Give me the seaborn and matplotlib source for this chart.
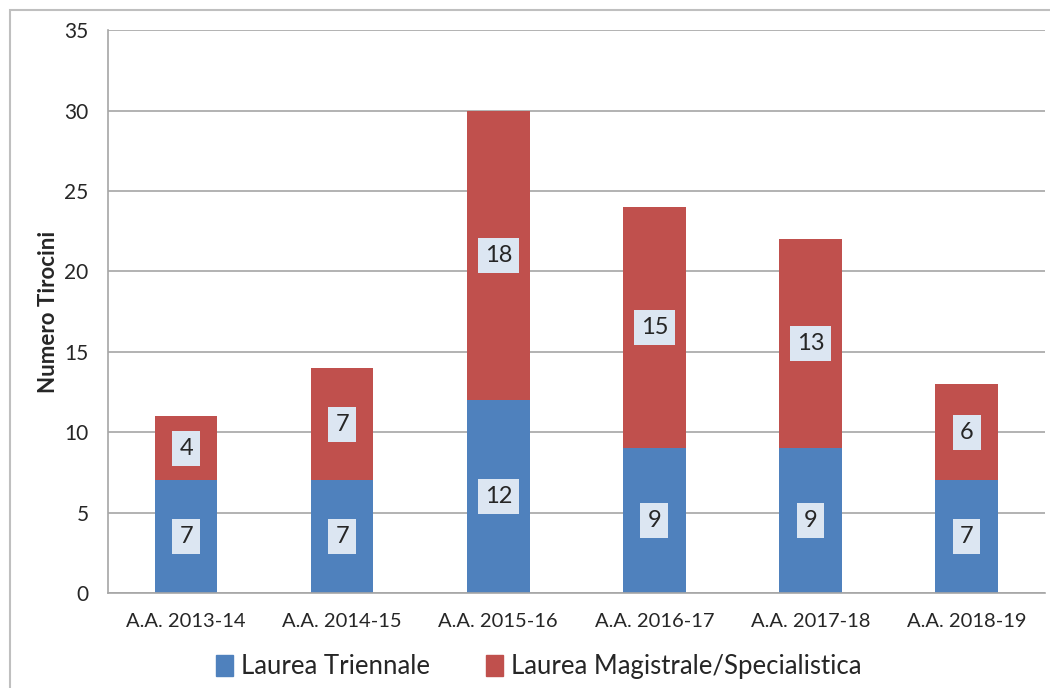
import pandas as pd
import matplotlib.pyplot as plt
import seaborn as sns
from matplotlib.patches import Rectangle, Patch

# Data
anni = ['A.A. 2013-14', 'A.A. 2014-15', 'A.A. 2015-16', 'A.A. 2016-17', 'A.A. 2017-18', 'A.A. 2018-19']
triennale = [7, 7, 12, 9, 9, 7]
magistrale = [4, 7, 18, 15, 13, 6]

blu = '#4F81BD'
rosso = '#C0504D'
grigio = '#A6A6A6'

df = pd.DataFrame({'anno': anni, 'triennale': triennale, 'magistrale': magistrale})
df['totale'] = df['triennale'] + df['magistrale']

sns.set_style('white')
plt.rcParams['font.family'] = ['Lato', 'DejaVu Sans']

fig = plt.figure(figsize=(10.5, 6.88), dpi=100)
ax = fig.add_axes([0.1029, 0.138, 0.892, 0.818])

# stacked bars: total first (red), then the lower part (blue) on top
sns.barplot(data=df, x='anno', y='totale', color=rosso, width=0.4, saturation=1,
            linewidth=0, ax=ax, zorder=2)
sns.barplot(data=df, x='anno', y='triennale', color=blu, width=0.4, saturation=1,
            linewidth=0, ax=ax, zorder=2)

# value labels in light boxes
box = dict(boxstyle='square,pad=0.3', facecolor='#DCE6F2', edgecolor='none')
for i, row in df.iterrows():
    ax.text(i, row['triennale'] / 2, str(row['triennale']), ha='center', va='center',
            fontsize=17, bbox=box, zorder=3)
    ax.text(i, row['triennale'] + row['magistrale'] / 2, str(row['magistrale']), ha='center',
            va='center', fontsize=17, bbox=box, zorder=3)

ax.set_ylim(0, 35)
ax.set_xlim(-0.5, 5.5)
ax.set_yticks(range(0, 36, 5))
ax.yaxis.grid(True, color=grigio, linewidth=1.2, zorder=0)
ax.set_axisbelow(True)

ax.set_xlabel('')
ax.set_ylabel('Numero Tirocini', fontsize=16, fontweight='bold', labelpad=4)

for s in ['top', 'right']:
    ax.spines[s].set_visible(False)
ax.spines['left'].set_color(grigio)
ax.spines['bottom'].set_color(grigio)
ax.spines['left'].set_linewidth(1.2)
ax.spines['bottom'].set_linewidth(1.2)

ax.tick_params(axis='y', length=8, color=grigio, width=1.2, labelsize=15, pad=6)
ax.tick_params(axis='x', which='major', length=0, labelsize=14.5, pad=14)
ax.set_xticks([i + 0.5 for i in range(-1, 6)], minor=True)
ax.tick_params(axis='x', which='minor', length=6, color=grigio, width=1.2)

handles = [Patch(color=blu, label='Laurea Triennale'),
           Patch(color=rosso, label='Laurea Magistrale/Specialistica')]
fig.legend(handles=handles, loc='center', bbox_to_anchor=(0.513, 0.031), ncol=2, frameon=False,
           fontsize=18.5, handlelength=0.65, handleheight=0.85, handletextpad=0.3, columnspacing=2.2)

# outer chart border
fig.patches.append(Rectangle((10 / 1050, -0.01), 1.05, 1 - 10 / 688 + 0.01, transform=fig.transFigure,
                             fill=False, edgecolor='#BFBFBF', linewidth=1.5))

fig.savefig('out.png', dpi=100)
